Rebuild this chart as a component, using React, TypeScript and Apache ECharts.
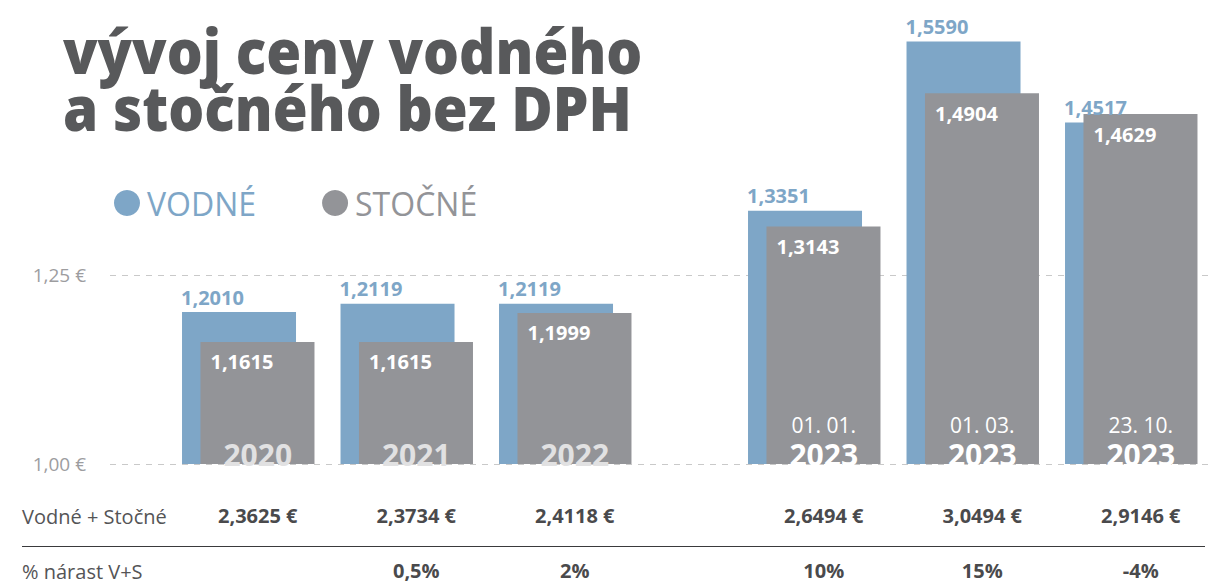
import React, { useEffect, useRef } from "react";
import * as echarts from "echarts";

const years = ["2020", "2021", "2022", "2023", "2023", "2023"];
const dates = ["", "", "", "01. 01.", "01. 03.", "23. 10."];
const vodne = [1.201, 1.2119, 1.2119, 1.3351, 1.559, 1.4517];
const stocne = [1.1615, 1.1615, 1.1999, 1.3143, 1.4904, 1.4629];
const totals = ["2,3625 €", "2,3734 €", "2,4118 €", "2,6494 €", "3,0494 €", "2,9146 €"];
const growth = ["", "0,5%", "2%", "10%", "15%", "-4%"];
const yTicks = [1.0, 1.25];
const rowLabels = ["Vodné + Stočné", "% nárast V+S"];
const seriesNames = ["VODNÉ", "STOČNÉ"];
const titleLines = ["vývoj ceny vodného", "a stočného bez DPH"];

const BLUE = "#7ea6c7";
const GREY = "#939498";
const FONT = '"Open Sans", "Noto Sans", sans-serif';

const fmt = (v: number) => v.toFixed(4).replace(".", ",");
const cats = years.map((y, i) => (dates[i] ? dates[i] + " " + y : y));

export default function App() {
  const ref = useRef<HTMLDivElement>(null);
  useEffect(() => {
    document.body.style.margin = "0";
    const chart = echarts.init(ref.current!, null, { renderer: "svg" });

    const groups = [
      { idx: [0, 1, 2], left: 169, yearColor: "#e1e1e2" },
      { idx: [3, 4, 5], left: 735, yearColor: "#ffffff" },
    ];
    const bandW = 158.5;
    const pxPerUnit = 756;
    const baseY = 464;
    const bottom = 583 - baseY;

    const grid: any[] = [
      { left: 110, right: 13, bottom, height: (yTicks[1] - yTicks[0]) * pxPerUnit },
    ];
    const xAxis: any[] = [{ type: "value", gridIndex: 0, show: false, min: 0, max: 1 }];
    const yAxis: any[] = [
      {
        type: "value",
        gridIndex: 0,
        min: yTicks[0],
        max: yTicks[1],
        interval: yTicks[1] - yTicks[0],
        axisLine: { show: false },
        axisTick: { show: false },
        axisLabel: {
          formatter: (v: number) => v.toFixed(2).replace(".", ",") + " €",
          color: "#9d9d9f",
          fontSize: 19,
          fontFamily: FONT,
          margin: 24,
        },
        splitLine: { lineStyle: { type: [6, 6], color: "#c9c9c9", width: 1 } },
      },
    ];
    const series: any[] = [];
    const yMax = 1.6;

    groups.forEach((g, gi) => {
      const gridIndex = gi + 1;
      grid.push({
        left: g.left,
        width: bandW * g.idx.length,
        bottom,
        height: (yMax - yTicks[0]) * pxPerUnit,
      });
      const c = g.idx.map((i) => cats[i]);
      const xi = xAxis.length;
      xAxis.push({
        type: "category",
        gridIndex,
        data: c,
        position: "bottom",
        z: 10,
        axisLine: { show: false },
        axisTick: { show: false },
        axisLabel: {
          inside: true,
          interval: 0,
          margin: -5,
          padding: [0, 0, 0, 19],
          formatter: (_v: string, k: number) => {
            const i = g.idx[k];
            return dates[i] ? `{d|${dates[i]}}\n{y|${years[i]}}` : `{y|${years[i]}}`;
          },
          rich: {
            d: { color: "#ffffff", fontSize: 21, fontFamily: FONT, lineHeight: 28, align: "center" },
            y: { color: g.yearColor, fontSize: 30, fontWeight: "bold", fontFamily: FONT, lineHeight: 30, align: "center" },
          },
        },
      });
      xAxis.push({
        type: "category",
        gridIndex,
        data: c,
        position: "bottom",
        axisLine: { show: false },
        axisTick: { show: false },
        axisLabel: {
          interval: 0,
          margin: 24,
          padding: [0, 0, 0, 19],
          formatter: (_v: string, k: number) => {
            const i = g.idx[k];
            return `{v|${totals[i]}}\n{p|${growth[i] || " "}}`;
          },
          rich: {
            v: { color: "#4a4a4c", fontSize: 20, fontWeight: "bold", fontFamily: FONT, lineHeight: 55, align: "center" },
            p: { color: "#4a4a4c", fontSize: 20, fontWeight: "bold", fontFamily: FONT, lineHeight: 55, align: "center" },
          },
        },
      });
      const yi = yAxis.length;
      yAxis.push({ type: "value", gridIndex, min: yTicks[0], max: yMax, show: false, splitLine: { show: false } });
      series.push({
        name: seriesNames[0],
        type: "bar",
        xAxisIndex: xi,
        yAxisIndex: yi,
        data: g.idx.map((i) => vodne[i]),
        barWidth: 114,
        itemStyle: { color: BLUE },
        label: {
          show: true,
          position: [-1, -5],
          align: "left",
          verticalAlign: "bottom",
          formatter: (p: any) => fmt(p.value),
          color: BLUE,
          fontSize: 20,
          fontWeight: "bold",
          fontFamily: FONT,
        },
      });
      series.push({
        name: seriesNames[1],
        type: "bar",
        xAxisIndex: xi,
        yAxisIndex: yi,
        data: g.idx.map((i) => stocne[i]),
        barWidth: 114,
        barGap: "-83.8%",
        itemStyle: { color: GREY },
        label: {
          show: true,
          position: [10, 10],
          align: "left",
          verticalAlign: "top",
          formatter: (p: any) => fmt(p.value),
          color: "#ffffff",
          fontSize: 20,
          fontWeight: "bold",
          fontFamily: FONT,
        },
      });
    });

    const titleStyle = { font: `800 62px ${FONT}`, fill: "#58595b", lineHeight: 57 };

    chart.setOption({
      animation: false,
      grid,
      xAxis,
      yAxis,
      series,
      legend: {
        left: 109,
        top: 182,
        icon: "circle",
        itemWidth: 26,
        itemHeight: 26,
        itemGap: 66,
        selectedMode: false,
        data: [
          { name: seriesNames[0], textStyle: { color: BLUE } },
          { name: seriesNames[1], textStyle: { color: GREY } },
        ],
        textStyle: { fontSize: 32, fontFamily: FONT, padding: [0, 0, 0, 2] },
      },
      graphic: [
        { type: "text", x: 63, y: 21, scaleX: 0.913, style: { text: titleLines[0], ...titleStyle } },
        { type: "text", x: 63, y: 78, scaleX: 0.913, style: { text: titleLines[1], ...titleStyle } },
        {
          type: "text",
          x: 22,
          y: 516,
          style: { text: rowLabels[0], font: `20px ${FONT}`, fill: "#545456", verticalAlign: "middle" },
        },
        {
          type: "text",
          x: 22,
          y: 571,
          style: { text: rowLabels[1], font: `20px ${FONT}`, fill: "#545456", verticalAlign: "middle" },
        },
        {
          type: "line",
          shape: { x1: 22, y1: 546.5, x2: 1205, y2: 546.5 },
          style: { stroke: "#3a3a3c", lineWidth: 1.2 },
        },
      ],
    });
    return () => chart.dispose();
  }, []);
  return <div ref={ref} style={{ width: 1221, height: 583 }} />;
}
